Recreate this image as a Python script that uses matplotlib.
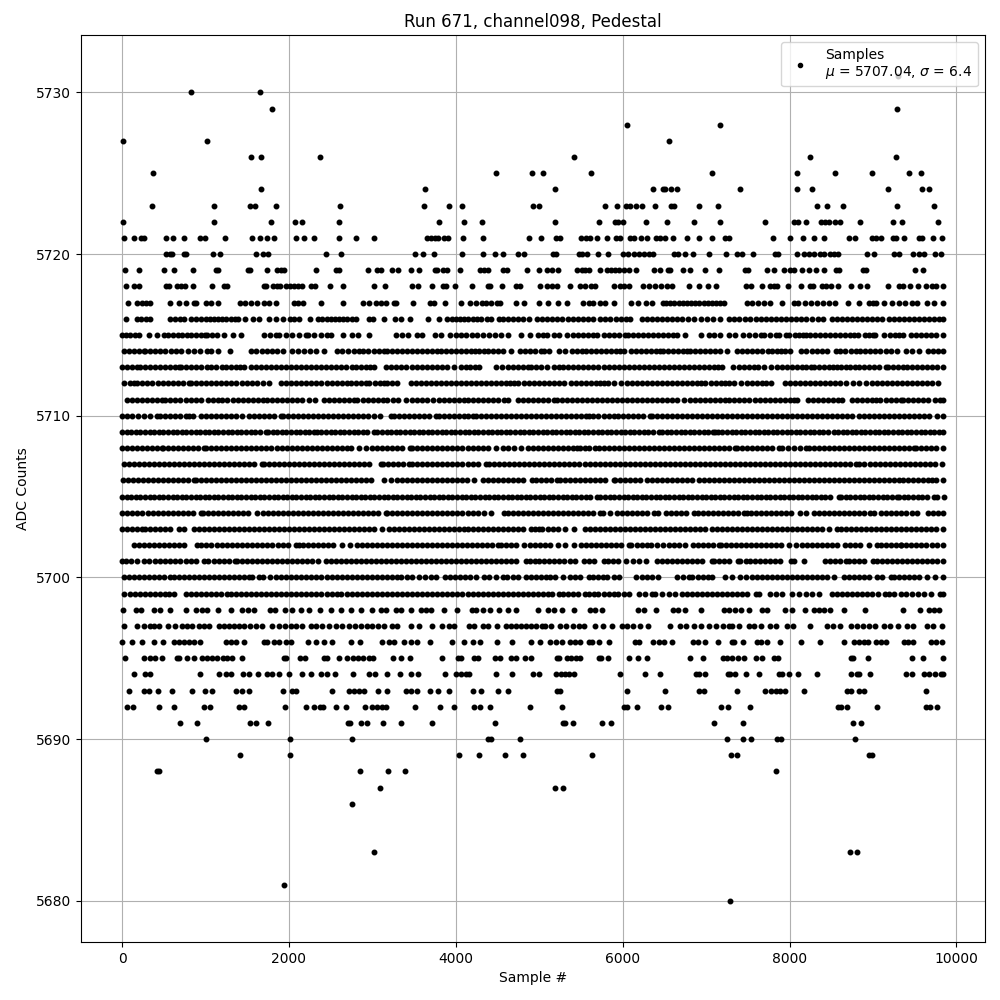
import matplotlib
matplotlib.use("Agg")
import matplotlib.pyplot as plt

TITLE = "Run 671, channel098, Pedestal"
XLABEL = "Sample #"
YLABEL = "ADC Counts"
LEGEND = "Samples\n$\\mu$ = 5707.04, $\\sigma$ = 6.4"

# Sample numbers, one list per ADC level
s5731 = [9305]
s5730 = [824, 1652]
s5729 = [1796, 9288]
s5728 = [6048, 7164]
s5727 = [8, 1016, 6552]
s5726 = [1544, 1664, 2372, 5412, 8244, 9276]
s5725 = [368, 4484, 4916, 5040, 5616, 7068, 8088, 8544, 8988, 9432, 9576]
s5724 = [1664, 3632, 5184, 6360, 6484, 6512, 6576, 6648, 7404, 8088, 8268, 9180, 9588, 9672]
s5723 = [356, 1100, 1532, 1592, 1844, 2612, 3620, 3924, 4076, 4928, 4992, 5784, 5928, 6036, 6084, 6160, 6228, 6384, 6580, 6612, 6912, 7140, 8328, 8448, 8640, 9288, 9732]
s5722 = [8, 1100, 1784, 2072, 2156, 2600, 3800, 4100, 4316, 5184, 5712, 5904, 5940, 6000, 6276, 6528, 6852, 7164, 7704, 8052, 8100, 8196, 8376, 8424, 8472, 8544, 8604, 8844, 9240, 9348, 9780]
s5721 = [20, 140, 228, 260, 524, 608, 740, 932, 992, 1232, 1556, 1652, 1736, 1820, 2084, 2180, 2300, 2600, 2804, 3020, 3656, 3704, 3752, 3788, 3860, 3908, 4088, 4328, 4880, 5016, 5196, 5244, 5496, 5556, 5604, 5688, 5816, 5916, 5964, 6084, 6132, 6216, 6288, 6396, 6444, 6512, 6600, 6768, 6912, 7068, 7224, 7272, 7800, 8004, 8160, 8292, 8412, 8712, 8784, 8988, 9036, 9096, 9240, 9276, 9372, 9552, 9588, 9720, 9828]
s5720 = [532, 572, 604, 740, 764, 1088, 1172, 1604, 1688, 1748, 2444, 2624, 3512, 3608, 3740, 4076, 4328, 4472, 4568, 4748, 4812, 5160, 5204, 5472, 5512, 5572, 5700, 5820, 6000, 6060, 6132, 6192, 6252, 6312, 6364, 6612, 6660, 6744, 6848, 7032, 7236, 7368, 7428, 7560, 7824, 7860, 8088, 8172, 8232, 8292, 8364, 8412, 8484, 8532, 8580, 8928, 9012, 9252, 9312, 9480, 9552, 9612, 9744, 9816]
s5719 = [32, 200, 500, 620, 848, 1124, 1148, 1508, 1532, 1736, 1856, 1900, 1940, 2324, 2564, 2600, 2948, 3056, 3104, 3236, 3308, 3464, 3560, 3752, 3776, 3848, 3896, 4052, 4292, 4332, 4380, 4568, 4616, 4856, 4992, 5088, 5148, 5220, 5448, 5508, 5552, 5600, 5724, 5808, 5856, 5904, 5952, 6012, 6072, 6156, 6372, 6444, 6540, 6572, 6720, 6804, 6984, 7152, 7464, 7500, 7728, 7812, 7932, 8004, 8052, 8148, 8232, 8316, 8412, 8556, 8592, 8880, 8916, 9504, 9600]
s5718 = [44, 140, 200, 524, 560, 656, 704, 752, 844, 1076, 1220, 1256, 1700, 1724, 1808, 1856, 1892, 1964, 2012, 2060, 2108, 2152, 2264, 2312, 2492, 2648, 3020, 3152, 3476, 3548, 3716, 3848, 3884, 3992, 4188, 4380, 4412, 4556, 4716, 4764, 5012, 5096, 5150, 5208, 5364, 5492, 5552, 5624, 5672, 5892, 5964, 6012, 6072, 6240, 6312, 6384, 6456, 6528, 6588, 6792, 6912, 7020, 7124, 7476, 7536, 7668, 7764, 7812, 7848, 7980, 8136, 8244, 8280, 8388, 8436, 8496, 8576, 8736, 8844, 8928, 9180, 9312, 9360, 9444, 9540, 9636, 9708, 9756, 9840]
s5717 = [68, 176, 236, 284, 340, 572, 680, 764, 860, 884, 1004, 1064, 1148, 1412, 1472, 1544, 1616, 1700, 1760, 1844, 2060, 2108, 2168, 2388, 2648, 2888, 2960, 3044, 3104, 3164, 3260, 3284, 3488, 3692, 3740, 3872, 4068, 4172, 4244, 4316, 4364, 4424, 4496, 4532, 4716, 4812, 4992, 5100, 5220, 5328, 5520, 5592, 5640, 5724, 5784, 5892, 6096, 6180, 6276, 6348, 6480, 6520, 6570, 6620, 6670, 6720, 6770, 6820, 6870, 6920, 6970, 7020, 7070, 7120, 7170, 7212, 7488, 7548, 7620, 7692, 7764, 7908, 8052, 8100, 8184, 8256, 8328, 8400, 8472, 8544, 8700, 8832, 8952, 9000, 9040, 9132, 9228, 9312, 9384, 9468, 9532, 9648, 9732, 9840]
s5716 = [44, 180, 230, 290, 340, 580, 640, 700, 740, 820, 880, 950, 1000, 1050, 1100, 1150, 1200, 1250, 1300, 1350, 1392, 1472, 1568, 1640, 1760, 1840, 1928, 2012, 2060, 2124, 2252, 2348, 2400, 2450, 2500, 2550, 2600, 2650, 2700, 2750, 2804, 2960, 3008, 3144, 3272, 3344, 3456, 3668, 3800, 3900, 3950, 4000, 4050, 4100, 4150, 4200, 4250, 4300, 4372, 4420, 4520, 4560, 4620, 4680, 4740, 4800, 4880, 4972, 5030, 5090, 5150, 5210, 5272, 5340, 5400, 5460, 5520, 5580, 5640, 5732, 5792, 5844, 5924, 5980, 6040, 6092, 6232, 6290, 6350, 6410, 6470, 6530, 6590, 6650, 6710, 6780, 6852, 6940, 7012, 7080, 7172, 7276, 7340, 7400, 7460, 7520, 7600, 7660, 7720, 7780, 7840, 7900, 7960, 8020, 8080, 8140, 8200, 8270, 8340, 8400, 8510, 8570, 8630, 8690, 8750, 8810, 8870, 8930, 8990, 9050, 9110, 9190, 9250, 9310, 9370, 9430, 9490, 9550, 9610, 9670, 9730, 9790, 9840]
s5715 = [0, 50, 100, 150, 200, 320, 420, 500, 555, 610, 665, 720, 775, 830, 885, 940, 992, 1020, 1080, 1140, 1220, 1332, 1428, 1700, 1775, 1848, 1880, 1968, 2040, 2120, 2200, 2228, 2300, 2380, 2452, 2500, 2648, 2760, 2832, 2960, 3280, 3350, 3428, 3532, 3600, 3748, 3828, 3932, 4000, 4060, 4120, 4188, 4252, 4320, 4400, 4470, 4540, 4628, 4784, 4892, 4980, 5040, 5090, 5172, 5240, 5332, 5400, 5460, 5520, 5580, 5640, 5692, 5772, 5830, 5890, 5950, 6032, 6060, 6120, 6180, 6240, 6300, 6360, 6420, 6480, 6540, 6600, 6652, 6748, 6940, 7032, 7100, 7170, 7272, 7352, 7444, 7512, 7580, 7652, 7692, 7760, 7832, 7872, 7952, 7992, 8060, 8110, 8164, 8192, 8250, 8310, 8370, 8430, 8490, 8550, 8610, 8670, 8730, 8772, 8824, 8900, 8950, 9004, 9024, 9132, 9200, 9260, 9312, 9364, 9460, 9520, 9580, 9640, 9700, 9760, 9844]
s5714 = [20, 80, 140, 200, 260, 280, 340, 400, 460, 520, 592, 650, 708, 788, 860, 930, 1012, 1064, 1152, 1292, 1540, 1610, 1680, 1740, 1792, 1860, 1932, 2040, 2110, 2180, 2250, 2320, 2420, 2572, 2640, 2710, 2780, 2840, 2892, 2948, 3020, 3080, 3140, 3180, 3240, 3300, 3360, 3420, 3480, 3540, 3600, 3660, 3720, 3780, 3820, 3880, 3940, 4000, 4060, 4120, 4180, 4230, 4280, 4332, 4390, 4450, 4510, 4570, 4660, 4772, 4830, 4890, 4950, 5020, 5060, 5112, 5232, 5304, 5392, 5450, 5512, 5564, 5620, 5680, 5740, 5800, 5860, 5920, 5970, 6012, 6100, 6160, 6220, 6280, 6340, 6400, 6452, 6484, 6540, 6600, 6660, 6720, 6770, 6812, 6872, 6930, 6990, 7050, 7110, 7170, 7252, 7372, 7430, 7490, 7550, 7610, 7672, 7740, 7792, 7844, 7900, 7950, 8004, 8140, 8192, 8272, 8330, 8390, 8452, 8552, 8610, 8670, 8732, 8792, 8850, 8910, 8970, 9030, 9090, 9150, 9210, 9292, 9392, 9470, 9552, 9660, 9720, 9780, 9840]
s5713 = [0, 60, 120, 180, 220, 280, 340, 400, 460, 520, 580, 630, 680, 708, 770, 830, 890, 948, 1012, 1070, 1130, 1200, 1240, 1300, 1360, 1410, 1460, 1540, 1600, 1660, 1720, 1780, 1840, 1900, 1960, 2020, 2080, 2140, 2200, 2260, 2320, 2380, 2440, 2500, 2560, 2620, 2680, 2760, 2800, 2860, 2920, 2970, 3020, 3160, 3220, 3280, 3340, 3400, 3480, 3540, 3600, 3660, 3720, 3780, 3840, 3900, 3980, 4060, 4120, 4170, 4228, 4280, 4480, 4548, 4620, 4680, 4740, 4800, 4860, 4900, 4960, 5020, 5092, 5172, 5232, 5290, 5350, 5410, 5470, 5530, 5590, 5650, 5710, 5770, 5830, 5890, 5950, 6010, 6070, 6130, 6190, 6250, 6310, 6370, 6430, 6490, 6550, 6610, 6670, 6730, 6790, 6850, 6910, 6970, 7030, 7090, 7140, 7192, 7324, 7392, 7450, 7510, 7570, 7620, 7692, 7780, 7852, 7910, 7970, 8030, 8090, 8150, 8200, 8252, 8292, 8350, 8410, 8470, 8520, 8572, 8620, 8680, 8730, 8780, 8832, 8890, 8950, 9010, 9070, 9152, 9180, 9240, 9300, 9364, 9412, 9472, 9530, 9590, 9650, 9710, 9770, 9840]
s5712 = [28, 90, 140, 180, 240, 300, 360, 428, 490, 550, 610, 670, 730, 800, 820, 880, 940, 1000, 1060, 1120, 1180, 1240, 1300, 1360, 1440, 1492, 1560, 1620, 1690, 1760, 1900, 1960, 2028, 2090, 2150, 2210, 2270, 2330, 2390, 2450, 2510, 2570, 2630, 2700, 2740, 2800, 2860, 2920, 2960, 3030, 3090, 3140, 3180, 3240, 3300, 3460, 3520, 3580, 3640, 3700, 3760, 3820, 3880, 3940, 4000, 4060, 4120, 4180, 4240, 4300, 4360, 4420, 4480, 4540, 4600, 4650, 4700, 4748, 4820, 4880, 4940, 5000, 5060, 5120, 5180, 5240, 5292, 5380, 5440, 5500, 5560, 5620, 5680, 5730, 5780, 5820, 5900, 5980, 6052, 6110, 6170, 6230, 6290, 6350, 6410, 6470, 6530, 6590, 6650, 6710, 6770, 6830, 6890, 6940, 6992, 7060, 7120, 7180, 7230, 7272, 7332, 7420, 7492, 7550, 7610, 7670, 7720, 7772, 7940, 8000, 8060, 8120, 8180, 8240, 8300, 8360, 8420, 8480, 8540, 8600, 8672, 8764, 8830, 8912, 8992, 9050, 9110, 9170, 9230, 9290, 9350, 9410, 9470, 9530, 9590, 9650, 9710, 9780]
s5711 = [60, 120, 180, 240, 300, 360, 420, 480, 520, 580, 640, 700, 760, 820, 880, 940, 1028, 1090, 1150, 1200, 1260, 1332, 1390, 1450, 1510, 1570, 1630, 1688, 1740, 1800, 1860, 1920, 1980, 2040, 2092, 2160, 2240, 2308, 2420, 2480, 2540, 2600, 2660, 2720, 2780, 2820, 2888, 2950, 3010, 3070, 3130, 3180, 3252, 3308, 3400, 3480, 3540, 3600, 3660, 3732, 3800, 3860, 3920, 3980, 4040, 4100, 4140, 4200, 4260, 4320, 4380, 4440, 4500, 4572, 4620, 4740, 4800, 4860, 4920, 4980, 5040, 5100, 5172, 5212, 5270, 5330, 5390, 5450, 5510, 5570, 5630, 5690, 5750, 5810, 5870, 5930, 5990, 6050, 6110, 6170, 6230, 6290, 6350, 6410, 6470, 6530, 6590, 6650, 6732, 6804, 6872, 6930, 6990, 7050, 7110, 7170, 7232, 7272, 7330, 7390, 7452, 7512, 7580, 7640, 7700, 7760, 7820, 7880, 7940, 8000, 8050, 8092, 8220, 8280, 8340, 8400, 8460, 8520, 8580, 8632, 8752, 8810, 8870, 8930, 8992, 9032, 9090, 9150, 9210, 9270, 9332, 9364, 9420, 9480, 9540, 9600, 9660, 9740, 9804, 9845]
s5710 = [0, 60, 120, 190, 260, 340, 420, 460, 520, 580, 640, 700, 760, 800, 852, 940, 1000, 1060, 1120, 1180, 1240, 1300, 1360, 1440, 1520, 1580, 1640, 1700, 1760, 1820, 1900, 1932, 1990, 2050, 2110, 2170, 2230, 2290, 2350, 2410, 2470, 2530, 2590, 2650, 2710, 2770, 2830, 2890, 2950, 3020, 3092, 3220, 3260, 3320, 3380, 3440, 3500, 3560, 3620, 3680, 3760, 3800, 3860, 3920, 3980, 4040, 4100, 4150, 4200, 4240, 4300, 4360, 4420, 4480, 4540, 4600, 4660, 4720, 4780, 4840, 4900, 4960, 5020, 5080, 5140, 5200, 5260, 5320, 5380, 5440, 5500, 5560, 5592, 5644, 5710, 5770, 5830, 5892, 5940, 6000, 6060, 6120, 6180, 6240, 6332, 6352, 6410, 6470, 6530, 6590, 6650, 6710, 6770, 6830, 6890, 6950, 7010, 7070, 7130, 7190, 7250, 7310, 7370, 7430, 7490, 7550, 7610, 7670, 7730, 7790, 7850, 7910, 7970, 8030, 8090, 8150, 8210, 8270, 8330, 8390, 8450, 8510, 8570, 8630, 8690, 8750, 8832, 8892, 8950, 9010, 9070, 9130, 9190, 9250, 9310, 9370, 9430, 9490, 9550, 9610, 9670, 9772, 9836]
s5709 = [0, 55, 110, 165, 220, 275, 330, 385, 440, 495, 550, 605, 660, 715, 770, 825, 880, 935, 990, 1045, 1100, 1155, 1210, 1265, 1320, 1375, 1430, 1485, 1540, 1595, 1650, 1720, 1748, 1805, 1860, 1915, 1970, 2025, 2080, 2135, 2190, 2245, 2300, 2332, 2390, 2445, 2500, 2555, 2610, 2665, 2720, 2775, 2830, 2885, 2940, 3020, 3060, 3115, 3170, 3225, 3280, 3335, 3390, 3445, 3500, 3555, 3610, 3665, 3720, 3775, 3830, 3885, 3940, 3995, 4050, 4105, 4160, 4215, 4270, 4325, 4380, 4435, 4490, 4545, 4600, 4655, 4710, 4765, 4820, 4875, 4930, 4985, 5040, 5095, 5150, 5205, 5260, 5315, 5370, 5425, 5480, 5535, 5590, 5645, 5700, 5755, 5810, 5865, 5920, 5975, 6030, 6085, 6140, 6195, 6250, 6305, 6360, 6432, 6472, 6530, 6585, 6640, 6695, 6750, 6805, 6860, 6915, 6970, 7025, 7080, 7112, 7140, 7195, 7250, 7305, 7360, 7415, 7470, 7525, 7580, 7635, 7690, 7745, 7800, 7855, 7910, 7965, 8020, 8075, 8130, 8185, 8240, 8295, 8350, 8405, 8460, 8532, 8580, 8635, 8690, 8745, 8800, 8855, 8910, 8965, 9020, 9075, 9130, 9185, 9240, 9295, 9350, 9405, 9460, 9515, 9570, 9625, 9680, 9735, 9790, 9845]
s5708 = [0, 60, 120, 180, 240, 300, 360, 420, 480, 492, 550, 610, 670, 730, 790, 850, 910, 980, 1004, 1060, 1120, 1180, 1240, 1300, 1360, 1420, 1480, 1540, 1600, 1660, 1720, 1780, 1860, 1912, 1980, 2040, 2100, 2160, 2220, 2280, 2340, 2400, 2460, 2520, 2580, 2640, 2700, 2748, 2840, 2928, 2990, 3050, 3110, 3170, 3230, 3290, 3350, 3452, 3480, 3540, 3600, 3660, 3720, 3780, 3840, 3900, 3960, 4020, 4080, 4140, 4200, 4260, 4320, 4380, 4480, 4560, 4630, 4700, 4780, 4860, 4920, 4980, 5040, 5100, 5160, 5220, 5280, 5340, 5400, 5452, 5492, 5552, 5592, 5672, 5712, 5770, 5830, 5890, 5950, 6010, 6070, 6130, 6190, 6250, 6310, 6370, 6430, 6490, 6550, 6610, 6670, 6730, 6790, 6850, 6910, 6970, 7030, 7090, 7150, 7210, 7270, 7352, 7372, 7430, 7490, 7550, 7610, 7670, 7730, 7790, 7872, 7912, 7980, 8050, 8120, 8192, 8232, 8290, 8350, 8410, 8470, 8530, 8590, 8650, 8710, 8770, 8830, 8890, 8950, 9010, 9070, 9130, 9190, 9250, 9310, 9370, 9430, 9492, 9512, 9570, 9630, 9690, 9750, 9840]
s5707 = [20, 80, 140, 200, 260, 320, 380, 440, 500, 560, 620, 680, 740, 800, 860, 920, 980, 1040, 1100, 1160, 1220, 1280, 1340, 1400, 1460, 1520, 1580, 1680, 1700, 1760, 1820, 1880, 1940, 2000, 2060, 2120, 2180, 2240, 2300, 2360, 2420, 2480, 2540, 2600, 2660, 2720, 2780, 2840, 2900, 2960, 3100, 3132, 3190, 3250, 3310, 3370, 3440, 3480, 3540, 3600, 3660, 3720, 3780, 3840, 3900, 3960, 4020, 4080, 4140, 4200, 4260, 4360, 4400, 4460, 4520, 4580, 4640, 4700, 4760, 4820, 4880, 4940, 5000, 5060, 5120, 5180, 5240, 5300, 5360, 5420, 5480, 5552, 5612, 5670, 5730, 5790, 5850, 5910, 5970, 6030, 6090, 6150, 6210, 6270, 6330, 6390, 6450, 6510, 6570, 6630, 6690, 6750, 6810, 6870, 6930, 6990, 7050, 7110, 7170, 7230, 7290, 7350, 7410, 7470, 7530, 7590, 7650, 7710, 7770, 7830, 7890, 7950, 8010, 8070, 8130, 8190, 8250, 8310, 8370, 8430, 8490, 8550, 8610, 8670, 8730, 8792, 8832, 8892, 8964, 9020, 9080, 9140, 9200, 9260, 9320, 9380, 9440, 9500, 9560, 9620, 9680, 9740, 9830]
s5706 = [12, 70, 130, 190, 250, 310, 370, 430, 490, 550, 610, 670, 730, 790, 860, 880, 940, 1000, 1060, 1120, 1180, 1240, 1300, 1360, 1420, 1480, 1540, 1600, 1660, 1720, 1780, 1840, 1900, 1960, 2020, 2080, 2140, 2200, 2260, 2320, 2380, 2440, 2500, 2560, 2620, 2680, 2740, 2800, 2860, 2920, 2980, 3140, 3228, 3290, 3350, 3410, 3470, 3530, 3590, 3650, 3710, 3770, 3830, 3890, 3950, 4010, 4070, 4130, 4220, 4320, 4380, 4440, 4500, 4560, 4620, 4680, 4740, 4800, 4908, 4960, 5020, 5080, 5140, 5212, 5252, 5310, 5370, 5430, 5490, 5550, 5610, 5670, 5730, 5790, 5892, 5912, 5970, 6030, 6090, 6150, 6204, 6292, 6350, 6410, 6470, 6530, 6590, 6650, 6710, 6770, 6830, 6912, 6972, 7032, 7092, 7150, 7210, 7270, 7330, 7390, 7450, 7510, 7570, 7630, 7690, 7750, 7810, 7870, 7930, 7990, 8050, 8110, 8170, 8230, 8290, 8350, 8410, 8470, 8530, 8590, 8650, 8710, 8770, 8830, 8890, 8950, 9010, 9070, 9130, 9190, 9250, 9312, 9364, 9420, 9480, 9540, 9600, 9660, 9712, 9752, 9840]
s5705 = [0, 55, 110, 165, 220, 275, 330, 385, 440, 495, 550, 605, 660, 715, 770, 825, 880, 935, 990, 1045, 1100, 1155, 1210, 1265, 1320, 1375, 1430, 1485, 1540, 1595, 1650, 1705, 1760, 1815, 1870, 1925, 1980, 2035, 2090, 2145, 2200, 2255, 2310, 2365, 2420, 2475, 2530, 2585, 2640, 2695, 2750, 2805, 2860, 2915, 2970, 3025, 3080, 3135, 3190, 3245, 3300, 3355, 3410, 3465, 3520, 3575, 3630, 3685, 3740, 3795, 3850, 3905, 3960, 4015, 4070, 4125, 4180, 4235, 4290, 4345, 4400, 4455, 4510, 4565, 4620, 4675, 4730, 4785, 4840, 4895, 4950, 5005, 5060, 5115, 5170, 5225, 5280, 5335, 5390, 5445, 5500, 5555, 5610, 5692, 5732, 5790, 5845, 5900, 5955, 6010, 6065, 6120, 6175, 6230, 6285, 6340, 6395, 6450, 6505, 6560, 6615, 6670, 6725, 6780, 6835, 6890, 6945, 7000, 7055, 7110, 7165, 7220, 7275, 7330, 7385, 7440, 7495, 7550, 7605, 7660, 7715, 7770, 7825, 7880, 7935, 7990, 8045, 8100, 8155, 8210, 8265, 8320, 8375, 8430, 8485, 8592, 8620, 8675, 8730, 8785, 8840, 8895, 8950, 9005, 9060, 9115, 9170, 9225, 9284, 9312, 9370, 9425, 9480, 9535, 9590, 9645, 9732, 9772, 9850]
s5704 = [0, 60, 120, 180, 240, 310, 372, 430, 490, 550, 610, 670, 730, 790, 850, 940, 972, 1030, 1090, 1150, 1210, 1270, 1330, 1390, 1450, 1510, 1620, 1692, 1750, 1810, 1870, 1930, 1990, 2050, 2110, 2170, 2230, 2290, 2350, 2410, 2470, 2530, 2590, 2650, 2710, 2770, 2830, 2890, 2950, 3010, 3070, 3160, 3180, 3240, 3300, 3360, 3420, 3480, 3540, 3600, 3660, 3720, 3780, 3840, 3900, 3960, 4020, 4080, 4140, 4200, 4260, 4340, 4420, 4572, 4620, 4680, 4740, 4800, 4860, 4920, 4980, 5040, 5100, 5160, 5220, 5280, 5340, 5400, 5460, 5520, 5580, 5640, 5732, 5764, 5852, 5932, 5990, 6050, 6110, 6170, 6230, 6290, 6380, 6420, 6516, 6580, 6640, 6700, 6760, 6860, 6904, 6960, 7020, 7080, 7140, 7200, 7260, 7320, 7380, 7452, 7484, 7540, 7600, 7660, 7720, 7780, 7840, 7900, 7960, 8020, 8124, 8196, 8292, 8350, 8410, 8470, 8530, 8590, 8650, 8710, 8770, 8830, 8890, 8960, 9012, 9092, 9150, 9210, 9270, 9330, 9390, 9472, 9524, 9660, 9720, 9780, 9840]
s5703 = [0, 60, 120, 180, 240, 280, 340, 400, 460, 520, 580, 680, 748, 860, 920, 980, 1040, 1100, 1160, 1220, 1280, 1340, 1400, 1460, 1520, 1580, 1640, 1700, 1760, 1820, 1880, 1940, 2000, 2060, 2120, 2180, 2240, 2300, 2360, 2420, 2480, 2540, 2600, 2660, 2720, 2780, 2840, 2900, 2960, 3020, 3120, 3200, 3260, 3320, 3380, 3440, 3500, 3560, 3620, 3680, 3740, 3800, 3860, 3920, 3980, 4040, 4092, 4150, 4210, 4270, 4330, 4390, 4450, 4510, 4570, 4630, 4690, 4750, 4810, 4900, 4944, 5000, 5032, 5100, 5160, 5220, 5312, 5412, 5552, 5610, 5670, 5730, 5790, 5850, 5910, 5972, 6032, 6090, 6150, 6210, 6270, 6330, 6390, 6450, 6510, 6570, 6630, 6690, 6750, 6810, 6870, 6930, 6990, 7072, 7132, 7190, 7250, 7310, 7370, 7430, 7490, 7550, 7610, 7670, 7730, 7790, 7850, 7910, 7970, 8030, 8090, 8150, 8210, 8270, 8330, 8392, 8472, 8564, 8620, 8680, 8740, 8800, 8860, 8920, 8980, 9040, 9100, 9160, 9220, 9280, 9340, 9400, 9460, 9520, 9580, 9640, 9700, 9760, 9840]
s5702 = [140, 200, 260, 320, 380, 440, 500, 560, 620, 680, 748, 892, 950, 1010, 1070, 1140, 1200, 1260, 1320, 1380, 1440, 1500, 1560, 1620, 1680, 1740, 1800, 1868, 1930, 1990, 2080, 2120, 2172, 2230, 2290, 2350, 2410, 2470, 2530, 2640, 2732, 2812, 2870, 2930, 2990, 3050, 3110, 3170, 3230, 3290, 3350, 3410, 3470, 3530, 3590, 3650, 3710, 3770, 3830, 3890, 3950, 4010, 4070, 4130, 4190, 4250, 4310, 4370, 4430, 4500, 4540, 4600, 4660, 4720, 4820, 4892, 4950, 5010, 5070, 5130, 5220, 5312, 5412, 5500, 5560, 5620, 5680, 5740, 5800, 5860, 5920, 5980, 6072, 6104, 6170, 6230, 6292, 6340, 6412, 6480, 6552, 6612, 6680, 6752, 6840, 6900, 6960, 7020, 7080, 7152, 7180, 7240, 7300, 7360, 7420, 7480, 7540, 7600, 7660, 7720, 7780, 7840, 7900, 7992, 8080, 8152, 8210, 8270, 8330, 8390, 8450, 8510, 8570, 8660, 8724, 8790, 8850, 8952, 9044, 9100, 9160, 9220, 9280, 9332, 9340, 9400, 9460, 9520, 9580, 9640, 9712, 9764, 9840]
s5701 = [0, 50, 108, 180, 260, 320, 400, 460, 520, 580, 640, 700, 760, 820, 880, 980, 1028, 1100, 1160, 1220, 1280, 1348, 1380, 1440, 1500, 1560, 1620, 1680, 1740, 1800, 1860, 1920, 1980, 2040, 2100, 2160, 2220, 2280, 2348, 2440, 2500, 2560, 2620, 2680, 2740, 2800, 2860, 2920, 2980, 3040, 3100, 3160, 3220, 3280, 3340, 3400, 3460, 3520, 3580, 3640, 3700, 3760, 3820, 3880, 3940, 4000, 4060, 4120, 4180, 4240, 4300, 4360, 4420, 4480, 4540, 4600, 4660, 4720, 4840, 4892, 4948, 5000, 5060, 5120, 5180, 5240, 5300, 5364, 5432, 5540, 5600, 5660, 5772, 5820, 5880, 5940, 6040, 6120, 6192, 6276, 6412, 6470, 6530, 6590, 6650, 6710, 6770, 6830, 6890, 6950, 7072, 7100, 7160, 7220, 7280, 7380, 7412, 7472, 7530, 7590, 7650, 7710, 7770, 7830, 7890, 8012, 8052, 8172, 8420, 8480, 8540, 8600, 8672, 8712, 8770, 8830, 8890, 9004, 9052, 9110, 9170, 9230, 9290, 9350, 9410, 9470, 9530, 9590, 9650, 9710, 9770, 9840]
s5700 = [20, 80, 140, 200, 260, 320, 380, 440, 500, 580, 620, 680, 740, 800, 860, 920, 980, 1040, 1100, 1160, 1220, 1280, 1340, 1400, 1460, 1520, 1560, 1640, 1692, 1772, 1848, 1910, 1970, 2030, 2090, 2150, 2210, 2270, 2330, 2390, 2450, 2510, 2570, 2640, 2692, 2750, 2810, 2870, 2930, 2990, 3050, 3110, 3170, 3230, 3290, 3340, 3412, 3480, 3560, 3630, 3700, 3760, 3868, 3930, 3990, 4050, 4110, 4170, 4240, 4332, 4400, 4480, 4560, 4612, 4680, 4748, 4840, 4900, 4960, 5020, 5080, 5132, 5192, 5280, 5364, 5432, 5492, 5592, 5644, 5700, 5764, 5812, 5892, 5952, 6164, 6230, 6290, 6350, 6420, 6652, 6720, 6792, 6832, 6900, 6960, 7020, 7072, 7232, 7310, 7404, 7476, 7552, 7610, 7670, 7730, 7790, 7850, 7910, 7970, 8030, 8090, 8150, 8210, 8270, 8330, 8390, 8450, 8532, 8652, 8710, 8770, 8830, 8890, 8950, 9052, 9112, 9212, 9252, 9310, 9370, 9430, 9490, 9550, 9652, 9740, 9840]
s5699 = [28, 90, 150, 210, 270, 330, 390, 450, 510, 560, 620, 760, 820, 880, 940, 1000, 1060, 1120, 1180, 1252, 1310, 1370, 1430, 1490, 1550, 1610, 1670, 1730, 1790, 1850, 1910, 1970, 2030, 2090, 2150, 2210, 2270, 2330, 2390, 2450, 2510, 2580, 2620, 2700, 2760, 2820, 2880, 2940, 3000, 3060, 3120, 3180, 3240, 3300, 3360, 3420, 3480, 3540, 3600, 3660, 3720, 3780, 3840, 3900, 3960, 4020, 4080, 4140, 4200, 4260, 4320, 4380, 4440, 4500, 4560, 4620, 4680, 4740, 4800, 4860, 4920, 4980, 5040, 5100, 5152, 5232, 5290, 5350, 5410, 5470, 5552, 5596, 5652, 5710, 5770, 5830, 5890, 5940, 6012, 6072, 6192, 6270, 6352, 6392, 6470, 6550, 6630, 6712, 6772, 6830, 6890, 6950, 7010, 7070, 7130, 7190, 7250, 7310, 7370, 7430, 7490, 7592, 7632, 7764, 7840, 7912, 8032, 8110, 8192, 8272, 8352, 8512, 8570, 8630, 8690, 8750, 8810, 8872, 8924, 8990, 9060, 9140, 9192, 9252, 9332, 9400, 9470, 9540, 9610, 9692, 9804, 9840]
s5698 = [12, 172, 228, 380, 460, 580, 764, 884, 960, 1020, 1148, 1304, 1440, 1508, 1580, 1772, 1828, 1952, 2040, 2140, 2240, 2372, 2504, 2620, 2740, 2864, 3000, 3100, 3160, 3280, 3340, 3460, 3580, 3640, 3708, 3860, 4016, 4188, 4240, 4328, 4408, 4520, 4620, 4720, 4988, 5100, 5172, 5272, 5412, 5612, 5672, 5752, 6180, 6252, 6396, 6604, 6660, 6744, 6936, 7212, 7272, 7352, 7420, 7512, 7672, 7724, 7944, 8032, 8184, 8292, 8352, 8412, 8484, 8652, 8904, 9356, 9564, 9672, 9732, 9792]
s5697 = [28, 180, 260, 330, 380, 440, 548, 640, 720, 780, 840, 920, 980, 1040, 1160, 1220, 1280, 1340, 1400, 1460, 1532, 1600, 1680, 1800, 1880, 1950, 2020, 2090, 2160, 2260, 2320, 2400, 2480, 2560, 2640, 2720, 2790, 2860, 2930, 3000, 3070, 3140, 3240, 3300, 3460, 3560, 3720, 3840, 3920, 3980, 4160, 4220, 4320, 4380, 4492, 4600, 4660, 4720, 4780, 4840, 4900, 4960, 5032, 5072, 5136, 5252, 5320, 5400, 5472, 5532, 5672, 5764, 5876, 5992, 6052, 6124, 6212, 6300, 6564, 6684, 6760, 6852, 6940, 7032, 7124, 7200, 7272, 7312, 7400, 7512, 7572, 7652, 7764, 7832, 7972, 8040, 8244, 8448, 8520, 8604, 8740, 8810, 8880, 8950, 9020, 9132, 9204, 9300, 9412, 9480, 9652, 9716, 9832]
s5696 = [4, 124, 244, 380, 488, 620, 680, 740, 800, 860, 932, 1240, 1300, 1360, 1460, 1700, 1740, 1820, 1880, 1960, 2028, 2228, 2324, 2420, 2516, 2740, 2852, 3120, 3200, 3260, 3380, 3460, 3532, 3692, 3956, 4100, 4200, 4292, 4496, 4676, 4904, 5012, 5132, 5204, 5272, 5364, 5432, 5484, 5592, 5632, 5712, 5832, 6144, 6192, 6360, 6432, 6492, 6588, 6840, 6900, 6984, 7140, 7312, 7340, 7440, 7612, 7660, 7728, 7884, 8136, 8364, 8652, 8772, 8832, 8892, 8940, 9036, 9092, 9156, 9372, 9420, 9476, 9692, 9752, 9832]
s5695 = [32, 260, 340, 392, 476, 660, 688, 772, 860, 960, 1020, 1080, 1140, 1212, 1260, 1320, 1436, 1940, 1968, 2132, 2188, 2420, 2452, 2600, 2692, 2772, 2828, 2888, 2960, 3008, 3248, 3340, 3452, 3836, 4028, 4060, 4220, 4260, 4468, 4532, 4660, 4720, 4828, 4904, 5212, 5240, 5332, 5380, 5444, 5492, 5712, 5740, 5820, 6072, 6180, 6288, 6804, 6960, 7200, 7252, 7312, 7380, 7452, 7596, 7668, 7812, 7860, 8732, 8764, 8940, 9468, 9600, 9840]
s5694 = [144, 280, 340, 932, 1160, 1240, 1300, 1452, 1520, 1628, 1736, 1792, 1880, 2000, 2156, 2264, 2388, 2460, 2548, 2764, 2960, 3032, 3176, 3328, 3464, 3548, 3872, 4004, 4068, 4124, 4160, 4484, 4676, 4920, 4992, 5204, 5260, 5304, 5352, 5412, 5964, 6264, 6444, 6884, 6912, 6984, 7260, 7292, 7352, 7476, 7632, 7872, 7904, 7992, 8100, 8328, 8736, 8804, 8836, 8964, 9396, 9468, 9612, 9672, 9748, 9820, 9840]
s5693 = [80, 268, 324, 432, 596, 836, 992, 1076, 1364, 1440, 1520, 1928, 2040, 2080, 2516, 2720, 2780, 2840, 2900, 3068, 3176, 3400, 3460, 3536, 3692, 3788, 3920, 4208, 4304, 4508, 4628, 5212, 5252, 6048, 6504, 6912, 6972, 7368, 7704, 7780, 7832, 7884, 7940, 8172, 8692, 8740, 8832, 8892, 9636]
s5692 = [60, 132, 448, 620, 980, 1052, 1400, 1460, 1952, 2204, 2300, 2372, 2412, 2564, 2684, 2912, 3000, 3052, 3120, 3160, 3512, 3812, 3980, 4212, 4288, 4412, 4892, 5268, 6012, 6056, 6168, 6456, 6540, 7176, 7260, 7524, 8576, 8612, 8688, 9048, 9640, 9684, 9772]
s5691 = [692, 896, 1532, 1604, 1748, 2708, 2732, 2864, 2936, 3128, 3344, 3716, 4472, 5280, 5312, 5404, 5748, 5856, 7092, 7440, 8760, 8856]
s5690 = [1004, 2012, 2756, 4388, 4420, 4772, 7248, 7440, 7536, 7844, 7892, 8784]
s5689 = [1412, 2012, 4040, 4280, 4592, 4808, 5628, 7296, 7368, 8956, 8992]
s5688 = [420, 448, 2852, 3188, 3392, 7836]
s5687 = [3092, 5184, 5280]
s5686 = [2756]
s5683 = [3020, 8724, 8808]
s5681 = [1940]
s5680 = [7284]

levels = [5731, 5730, 5729, 5728, 5727, 5726, 5725, 5724, 5723, 5722, 5721, 5720, 5719, 5718, 5717, 5716, 5715,
          5714, 5713, 5712, 5711, 5710, 5709, 5708, 5707, 5706, 5705, 5704, 5703, 5702, 5701, 5700, 5699, 5698,
          5697, 5696, 5695, 5694, 5693, 5692, 5691, 5690, 5689, 5688, 5687, 5686, 5683, 5681, 5680]

samples = []
counts = []
for lev in levels:
    xs = globals()[f"s{lev}"]
    samples.extend(xs)
    counts.extend([lev] * len(xs))

fig, ax = plt.subplots(figsize=(10, 10), dpi=100)
ax.plot(samples, counts, "k.", markersize=6.5, label=LEGEND)
ax.set_title(TITLE)
ax.set_xlabel(XLABEL)
ax.set_ylabel(YLABEL)
ax.grid(True)
ax.legend(loc="upper right", markerscale=6 / 6.5)
fig.subplots_adjust(left=0.081, right=0.985, top=0.965, bottom=0.058)
fig.savefig("out.png", dpi=100)
